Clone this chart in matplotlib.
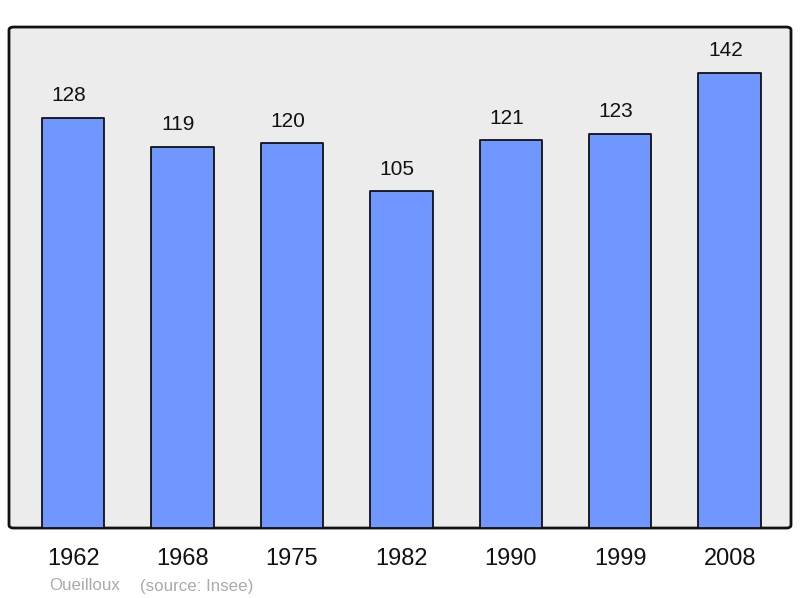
import matplotlib.pyplot as plt
from matplotlib.patches import FancyBboxPatch

plt.rcParams['font.family'] = ['Liberation Sans', 'DejaVu Sans']

# population data
years = ['1962', '1968', '1975', '1982', '1990', '1999', '2008']
population = [128, 119, 120, 105, 121, 123, 142]

fig = plt.figure(figsize=(8, 5.98), dpi=100)
ax = fig.add_axes([0.01125, 0.117, 0.9775, 0.8378])
ax.set_facecolor('none')

# rounded frame with grey background
frame = FancyBboxPatch((0, 0), 1, 1, boxstyle='round,pad=0,rounding_size=0.006',
                       transform=ax.transAxes, facecolor='#ececec',
                       edgecolor='#111111', linewidth=2, zorder=0, clip_on=False)
ax.add_patch(frame)

x = range(len(years))
bars = ax.bar(x, population, width=0.57, color='#7096ff', edgecolor='#111111',
              linewidth=1.3, zorder=2)
for b in bars:
    b.set_joinstyle('round')

# labels sit a touch left of the bar centre, as in the original
for xi, v in zip(x, population):
    ax.annotate(str(v), (xi, v), xytext=(-3, 9), textcoords='offset points',
                ha='center', va='bottom', fontsize=15, color='#111111')

ax.set_xlim(-0.587, 6.561)
ax.set_ylim(0, 156.3)
ax.set_xticks(list(x))
ax.set_xticklabels(years, fontsize=17, color='#111111')
ax.tick_params(axis='x', length=0, pad=14.5)
ax.set_yticks([])
for s in ax.spines.values():
    s.set_visible(False)

fig.text(49 / 800, 1 - 586 / 598, 'Oueilloux', fontsize=12.2, color='#aaaaaa',
         va='center', ha='left')
fig.text(140 / 800, 1 - 586 / 598, '(source: Insee)', fontsize=12.2, color='#aaaaaa',
         va='center', ha='left')

plt.savefig('out.png', dpi=100)
